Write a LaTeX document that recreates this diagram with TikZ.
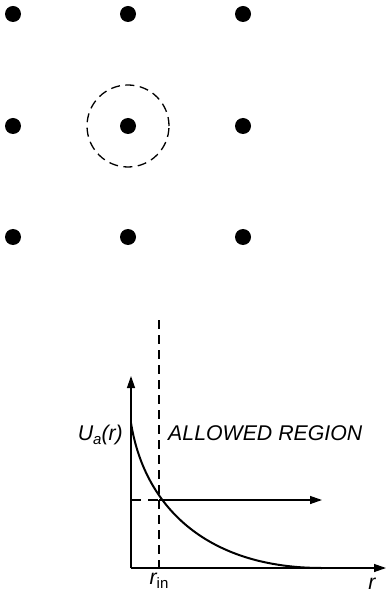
\documentclass[tikz,border=0pt]{standalone}
\usepackage{fontspec}
\setmainfont{Liberation Sans}
\usetikzlibrary{arrows.meta}
\newcommand{\mysub}[1]{\raisebox{-0.2em}{\fontsize{15}{17}\selectfont #1}}
\tikzset{
  atom/.style={circle,fill=black,inner sep=0pt,minimum size=16pt},
  axis/.style={line width=1.3pt,-{Triangle[length=12pt,width=8pt]}},
  dashln/.style={line width=1.3pt,dash pattern=on 9pt off 6pt},
  lbl/.style={font=\fontsize{21.3}{24}\selectfont\itshape,inner sep=0pt},
}
\begin{document}
\begin{tikzpicture}[x=1pt,y=-1pt]
\useasboundingbox (0,0) rectangle (386,593);
% lattice
\foreach \i/\x in {1/13,2/128,3/243}{
  \foreach \j/\y in {1/14,2/126,3/237}{
    \node[atom] (a\i\j) at (\x,\y) {};
  }
}
\draw[line width=1.3pt,dash pattern=on 9pt off 5.5pt] (a22.center) circle[radius=41pt];
% graph
\coordinate (O) at (131,568);
\coordinate (ytip) at (131,376);
\coordinate (xtip) at (386,568);
\coordinate (vtop) at (159,320);
\coordinate (vbot) at (159,568);
\coordinate (hL) at (131,500);
\coordinate (hM) at (159,500);
\coordinate (htip) at (322,500);
\coordinate (c0) at (131,423);
\coordinate (c1) at (322,568);
\draw[axis] (O) -- (ytip);
\draw[axis] (O) -- (xtip);
\draw[dashln] (vtop) -- (vbot);
\draw[line width=1.3pt,dash pattern=on 10pt off 7pt] (hL) -- (hM);
\draw[axis] (hM) -- (htip);
\draw[line width=2pt] (c0) .. controls (145,510) and (210,568) .. (c1);
\node[lbl,anchor=base east] (ua) at (123,440) {U\mysub{a}(r)};
\node[lbl,anchor=base west] (ar) at (168,440) {ALLOWED REGION};
\node[lbl,anchor=base] (rin) at (159,584) {r\mysub{\upshape in}};
\node[lbl,anchor=base] (r) at (372,589) {r};
\end{tikzpicture}
\end{document}
